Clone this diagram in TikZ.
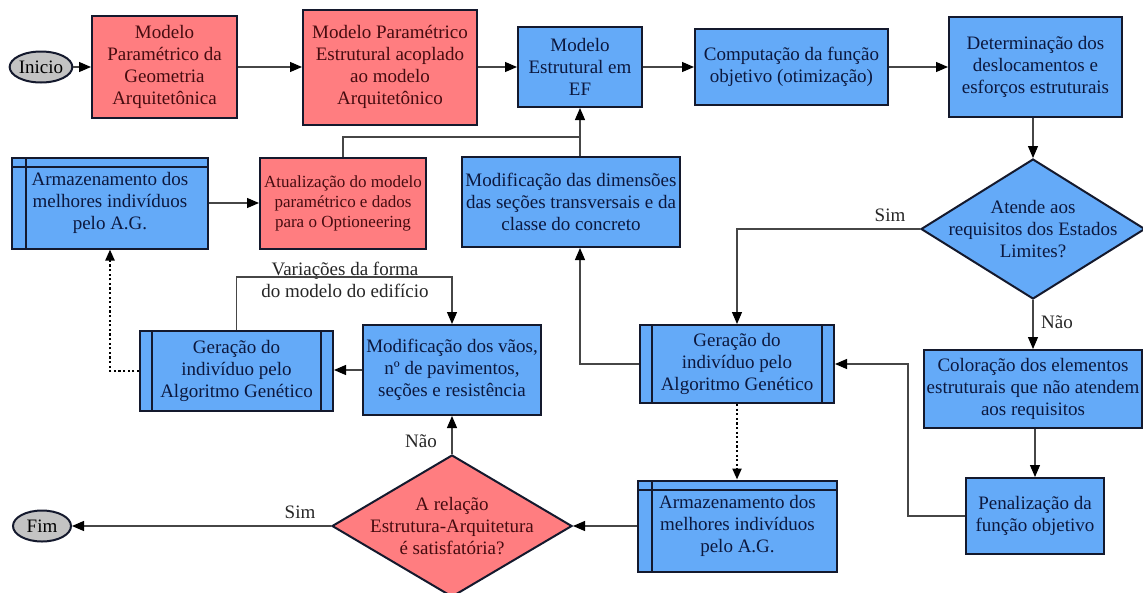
\documentclass[tikz,border=0pt]{standalone}
\usepackage{fontspec}
\setmainfont{Liberation Serif}
\usetikzlibrary{shapes.geometric,arrows.meta}
\definecolor{bfill}{RGB}{100,170,248}
\definecolor{rfill}{RGB}{255,125,128}
\definecolor{gfill}{RGB}{195,195,195}
\definecolor{bord}{RGB}{20,25,45}
\definecolor{btext}{RGB}{12,24,62}
\definecolor{rtext}{RGB}{70,12,16}
\definecolor{linec}{RGB}{70,70,70}
\begin{document}
\begin{tikzpicture}[x=1pt,y=-1pt,
  every node/.style={font=\fontsize{19}{22}\selectfont},
  box/.style={draw=bord, line width=2pt, fill=bfill, text=btext, align=center, inner sep=0pt},
  rbox/.style={box, fill=rfill, text=rtext},
  term/.style={ellipse, draw=bord, line width=2pt, fill=gfill, text=black, inner sep=0pt, minimum width=58pt, minimum height=31pt},
  dia/.style={diamond, draw=bord, line width=2pt, inner sep=0pt},
  dtext/.style={align=center, inner sep=0pt},
  subproc/.style={box, path picture={
     \draw[draw=bord, line width=2pt]
       ([xshift=12pt]path picture bounding box.south west) -- ([xshift=12pt]path picture bounding box.north west)
       ([xshift=-12pt]path picture bounding box.south east) -- ([xshift=-12pt]path picture bounding box.north east);}},
  storebox/.style={box, path picture={
     \draw[draw=bord, line width=2pt]
       ([xshift=14pt]path picture bounding box.south west) -- ([xshift=14pt]path picture bounding box.north west)
       ([yshift=-9pt]path picture bounding box.north west) -- ([yshift=-9pt]path picture bounding box.north east);}},
  conn/.style={draw=linec, line width=1.2pt, -{Triangle[length=12pt,width=10pt,color=black]}},
  plain/.style={draw=linec, line width=1.2pt},
  dotarr/.style={draw=black, line width=2.2pt, dash pattern=on 2.2pt off 2.4pt, -{Triangle[length=11pt,width=9pt]}},
  lbl/.style={text=black!85, align=center, inner sep=0pt}
]
\fill[white] (0,0) rectangle (1143,592);
\useasboundingbox (0,0) rectangle (1143,592);

% row 1
\node[term] (ini) at (41,67) {Inicio};
\node[rbox, minimum width=145pt, minimum height=102pt] (b1) at (164.5,67) {Modelo\\Paramétrico da\\Geometria\\Arquitetônica};
\node[rbox, minimum width=174pt, minimum height=115pt] (b2) at (390,67) {Modelo Paramétrico\\Estrutural acoplado\\ao modelo\\Arquitetônico};
\node[box, minimum width=124pt, minimum height=80pt] (b3) at (580,67) {Modelo\\Estrutural em\\EF};
\node[box, minimum width=193pt, minimum height=76pt] (b4) at (791.5,67) {Computação da função\\objetivo (otimização)};
\node[box, minimum width=173pt, minimum height=100pt] (b5) at (1035.5,67) {Determinação dos\\deslocamentos e\\esforços estruturais};

% row 2
\node[storebox, minimum width=196pt, minimum height=91pt] (a1) at (110,203) {Armazenamento dos\\melhores indivíduos\\pelo A.G.};
\node[rbox, minimum width=166pt, minimum height=91pt, font=\fontsize{17}{20}\selectfont] (at) at (343,203) {Atualização do modelo\\paramétrico e dados\\para o Optioneering};
\node[box, minimum width=218pt, minimum height=90pt] (md) at (571,202) {Modificação das dimensões\\das seções transversais e da\\classe do concreto};
\node[dia, fill=bfill, minimum width=224pt, minimum height=140pt] (d1) at (1033,229) {};
\node[dtext, text=btext] (d1t) at (d1.center) {Atende aos\\requisitos dos Estados\\Limites?};

% row 3
\node[subproc, minimum width=193pt, minimum height=80pt] (gl) at (236.5,371) {Geração do\\indivíduo pelo\\Algoritmo Genético};
\node[box, minimum width=178pt, minimum height=90pt] (mv) at (452,370) {Modificação dos vãos,\\nº de pavimentos,\\seções e resistência};
\node[subproc, minimum width=194pt, minimum height=78pt] (gm) at (737,364) {Geração do\\indivíduo pelo\\Algoritmo Genético};
\node[box, minimum width=218pt, minimum height=78pt] (co) at (1033,389) {Coloração dos elementos\\estruturais que não atendem\\aos requisitos};

% row 4
\node[term] (fim) at (42,526) {Fim};
\node[dia, fill=rfill, minimum width=240pt, minimum height=142pt] (d2) at (452,526) {};
\node[dtext, text=rtext] (d2t) at (d2.center) {A relação\\Estrutura-Arquitetura\\é satisfatória?};
\node[storebox, minimum width=199pt, minimum height=91pt] (ab) at (737.5,526) {Armazenamento dos\\melhores indivíduos\\pelo A.G.};
\node[box, minimum width=138pt, minimum height=76pt] (pe) at (1035,516) {Penalização da\\função objetivo};

% labels
\node[lbl] (lsim1) at (890,215) {Sim};
\node[lbl] (lnao1) at (1057,322) {Não};
\node[lbl] (lvar) at (345,280) {Variações da forma\\do modelo do edifício};
\node[lbl] (lnao2) at (421,441) {Não};
\node[lbl] (lsim2) at (300,512) {Sim};

% connectors row 1
\draw[conn] (ini.east) -- (ini.east -| b1.west);
\draw[conn] (b1.east) -- (b1.east -| b2.west);
\draw[conn] (b2.east) -- (b2.east -| b3.west);
\draw[conn] (b3.east) -- (b3.east -| b4.west);
\draw[conn] (b4.east) -- (b4.east -| b5.west);
\draw[conn] (b5.south -| d1.north) -- (d1.north);

% decision 1
\draw[conn] (d1.west) -| (gm.north);
\draw[conn] (d1.south) -- (d1.south |- co.north);
\draw[conn] (co.south -| pe.north) -- (pe.north);
\draw[conn] (pe.west) -- ++(-57,0) |- (gm.east);

% middle column
\draw[conn] (gm.west) -| (md.south -| b3.south);
\draw[conn] (md.north -| b3.south) -- (b3.south);
\coordinate (jn) at (580,137);
\draw[plain] (at.north) |- (jn);
\draw[conn] (a1.east) -- (a1.east -| at.west);

% left loop
\draw[conn] (gl.north) -- ++(0,-53) -| (mv.north);
\draw[conn] (mv.west) -- (mv.west -| gl.east);
\draw[dotarr] (gl.west) -| (a1.south);
\draw[conn] (d2.north) -- (d2.north |- mv.south);
\draw[conn] (d2.west) -- (fim.east);
\draw[conn] (ab.west) -- (d2.east);
\draw[dotarr] (gm.south) -- (gm.south |- ab.north);
\end{tikzpicture}
\end{document}
